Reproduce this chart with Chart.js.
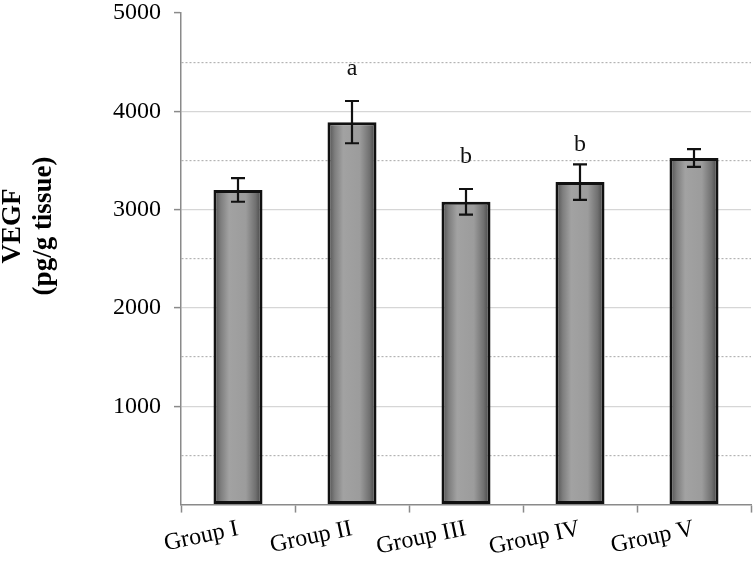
<!DOCTYPE html>
<html>
<head>
<meta charset="utf-8">
<script src="https://cdn.jsdelivr.net/npm/chart.js@4.4.0/dist/chart.umd.min.js"></script>
<style>
  html, body { margin: 0; padding: 0; background: #fff; }
  #wrap { width: 754px; height: 564px; }
</style>
</head>
<body>
<div id="wrap"><canvas id="vegf-chart"></canvas></div>
<script>
// data
const groups = ["Group I", "Group II", "Group III", "Group IV", "Group V"];
const vegf = [3200, 3890, 3080, 3280, 3525];
const sem = [120, 215, 130, 180, 90];
const sigLetters = ["", "a", "b", "b", ""];
const letterY = [0, 4430, 3540, 3660, 0];
const yTicks = [1000, 2000, 3000, 4000, 5000];

const serif = "'Liberation Serif', 'DejaVu Serif', serif";
const barPct = 0.43;

// horizontal gradient for the bevelled grey bars, positioned from the x scale
function barFill(ctx) {
  const chart = ctx.chart;
  const x = chart.scales && chart.scales.x;
  if (!x || ctx.dataIndex === undefined) return "#8c8c8c";
  const cx = x.getPixelForValue(ctx.dataIndex);
  const w = (x.width / groups.length) * barPct;
  if (!isFinite(cx) || !w) return "#8c8c8c";
  const g = chart.ctx.createLinearGradient(cx - w / 2, 0, cx + w / 2, 0);
  g.addColorStop(0, "#4a4a4a");
  g.addColorStop(0.15, "#7e7e7e");
  g.addColorStop(0.32, "#a2a2a2");
  g.addColorStop(0.66, "#9c9c9c");
  g.addColorStop(0.86, "#707070");
  g.addColorStop(1, "#3c3c3c");
  return g;
}

// error bars, significance letters and the y title
const extras = {
  id: "extras",
  afterDatasetsDraw(chart) {
    const { ctx, scales: { x, y } } = chart;
    ctx.save();
    ctx.strokeStyle = "#111";
    ctx.lineWidth = 2.2;
    vegf.forEach((v, i) => {
      const px = x.getPixelForValue(i);
      const top = y.getPixelForValue(v + sem[i]);
      const bot = y.getPixelForValue(v - sem[i]);
      ctx.beginPath();
      ctx.moveTo(px, top); ctx.lineTo(px, bot);
      ctx.moveTo(px - 7, top); ctx.lineTo(px + 7, top);
      ctx.moveTo(px - 7, bot); ctx.lineTo(px + 7, bot);
      ctx.stroke();
    });
    ctx.fillStyle = "#111";
    ctx.font = "24px " + serif;
    ctx.textAlign = "center";
    ctx.textBaseline = "middle";
    sigLetters.forEach((t, i) => {
      if (!t) return;
      ctx.fillText(t, x.getPixelForValue(i), y.getPixelForValue(letterY[i]));
    });
    // y axis title, two lines
    ctx.translate(28, 226);
    ctx.rotate(-Math.PI / 2);
    ctx.font = "bold 27px " + serif;
    ctx.fillStyle = "#000";
    ctx.fillText("VEGF", 0, -15);
    ctx.fillText("(pg/g tissue)", 0, 16);
    ctx.restore();
  }
};

new Chart(document.getElementById("vegf-chart"), {
  type: "bar",
  data: {
    labels: groups,
    datasets: [{
      data: vegf,
      backgroundColor: barFill,
      borderColor: "#111",
      borderWidth: 3,
      borderSkipped: false,
      barPercentage: barPct,
      categoryPercentage: 1
    }]
  },
  options: {
    responsive: true,
    maintainAspectRatio: false,
    animation: false,
    layout: { padding: { top: 0, right: 3, left: 0, bottom: 0 } },
    plugins: { legend: { display: false }, tooltip: { enabled: false } },
    scales: {
      x: {
        grid: {
          offset: true,
          drawOnChartArea: false,
          tickLength: 8,
          tickColor: "#8a8a8a",
          tickWidth: 1.5
        },
        border: { color: "#8a8a8a", width: 1.5 },
        ticks: {
          color: "#000",
          font: { family: serif, size: 24 },
          minRotation: 12,
          maxRotation: 12,
          padding: 2
        }
      },
      y: {
        min: 0,
        max: 5000,
        afterBuildTicks(scale) {
          const t = [];
          for (let v = 0; v <= 5000; v += 500) t.push({ value: v });
          scale.ticks = t;
        },
        afterFit(scale) { scale.width = 181; },
        grid: {
          color: ctx => {
            const v = ctx.tick ? ctx.tick.value : 0;
            if (v === 0 || v === 5000) return "rgba(0,0,0,0)";
            return v % 1000 === 0 ? "#d6d6d6" : "#b4b4b4";
          },
          lineWidth: 1.2,
          tickLength: 7,
          tickColor: ctx => (ctx.tick && yTicks.includes(ctx.tick.value)) ? "#8a8a8a" : "rgba(0,0,0,0)",
          tickWidth: 1.5
        },
        border: {
          color: "#8a8a8a",
          width: 1.5,
          dash: ctx => (ctx.tick && ctx.tick.value % 1000 !== 0) ? [2, 2] : []
        },
        ticks: {
          color: "#000",
          autoSkip: false,
          // zero line height keeps the plot top close to the 5000 label
          font: { family: serif, size: 24, lineHeight: 0 },
          padding: 13,
          callback: v => yTicks.includes(v) ? String(v) : ""
        }
      }
    }
  },
  plugins: [extras]
});
</script>
</body>
</html>
